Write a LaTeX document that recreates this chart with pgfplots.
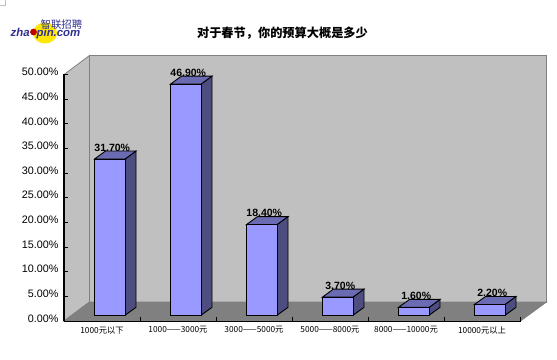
\documentclass[border=0pt]{standalone}
\usepackage{pgfplots}
\pgfplotsset{compat=1.18}
\usepackage{fontspec}
\setmainfont{Liberation Sans}
\newfontfamily\cjk{Noto Sans CJK SC}
\definecolor{wall}{HTML}{C0C0C0}
\definecolor{flr}{HTML}{808080}
\definecolor{barF}{HTML}{9999FF}
\definecolor{barS}{HTML}{4D4D80}
\definecolor{barT}{HTML}{6B6BB3}
\definecolor{logoB}{HTML}{303090}
\begin{document}
\begin{tikzpicture}
\path[use as bounding box] (0pt,0pt) rectangle (557pt,359pt);
\draw[black!25, line width=0.8pt] (0pt,353.5pt) -- (5.5pt,353.5pt) -- (5.5pt,359pt);
% logo
\fill[yellow!90!orange] (45pt,326pt) ellipse (12pt and 10.5pt);
\node[font=\bfseries\itshape\fontsize{11.4}{11.4}\selectfont, text=logoB, inner sep=0pt] at (45.5pt,325.2pt) {zha\phantom{o}pin.com};
\fill[red!75!black] (33.5pt,327pt) circle (3.4pt);
\node[font=\cjk\itshape\fontsize{10.4}{10.4}\selectfont, text=logoB, inner sep=0pt] at (61.5pt,334.5pt) {智联招聘};
\begin{axis}[
  at={(64pt,38pt)}, anchor=south west,
  x=1pt, y=4.93pt,
  scale only axis,
  xmin=0, xmax=456.5, ymin=0, ymax=50,
  clip=false,
  axis on top,
  axis lines*=left,
  axis line style={-, black, line width=1pt},
  tick style={black, line width=0.8pt},
  major tick length=4pt,
  tick align=inside,
  ytick={0,5,...,50},
  yticklabels={0.00\%,5.00\%,10.00\%,15.00\%,20.00\%,25.00\%,30.00\%,35.00\%,40.00\%,45.00\%,50.00\%},
  yticklabel style={font=\fontsize{10.8}{10.8}\selectfont, yshift=2.5pt, xshift=-2pt},
  xtick={0,76,152,228,304,380,456},
  x tick label as interval,
  xticklabels={1000元以下,1000——3000元,3000——5000元,5000——8000元,8000——10000元,10000元以上},
  xticklabel style={font=\cjk\fontsize{8.3}{8.3}\selectfont, yshift=-2pt},
  title={\bfseries 对于春节，你的预算大概是多少},
  title style={at={(0.4786,1.144)}, anchor=center, font=\cjk\fontsize{12.2}{12.2}\selectfont},
]
% walls and floor
\addplot[fill=wall, draw=flr, line width=0.8pt] coordinates {(0,0) (25.5,3.85) (25.5,53.85) (0,50)} -- cycle;
\addplot[fill=wall, draw=flr, line width=0.8pt] coordinates {(25.5,3.85) (482.5,3.85) (482.5,53.85) (25.5,53.85)} -- cycle;
\addplot[fill=flr, draw=flr, line width=0.8pt] coordinates {(0,0) (456.5,0) (482.5,3.85) (25.5,3.85)} -- cycle;
% bar sides and tops
\tikzset{side/.style={fill=barS, draw=black, line width=0.9pt, yshift=5.7pt},
         topf/.style={fill=barT, draw=black, line width=0.9pt, yshift=5.7pt}}
\addplot[side] coordinates {(61,0) (61,31.7) (72,33.32) (72,1.62)} -- cycle;
\addplot[topf] coordinates {(30.5,31.7) (61,31.7) (72,33.32) (41.5,33.32)} -- cycle;
\addplot[side] coordinates {(137,0) (137,46.9) (148,48.52) (148,1.62)} -- cycle;
\addplot[topf] coordinates {(106.5,46.9) (137,46.9) (148,48.52) (117.5,48.52)} -- cycle;
\addplot[side] coordinates {(213,0) (213,18.4) (224,20.02) (224,1.62)} -- cycle;
\addplot[topf] coordinates {(182.5,18.4) (213,18.4) (224,20.02) (193.5,20.02)} -- cycle;
\addplot[side] coordinates {(289,0) (289,3.7) (300,5.32) (300,1.62)} -- cycle;
\addplot[topf] coordinates {(258.5,3.7) (289,3.7) (300,5.32) (269.5,5.32)} -- cycle;
\addplot[side] coordinates {(365,0) (365,1.6) (376,3.22) (376,1.62)} -- cycle;
\addplot[topf] coordinates {(334.5,1.6) (365,1.6) (376,3.22) (345.5,3.22)} -- cycle;
\addplot[side] coordinates {(441,0) (441,2.2) (452,3.82) (452,1.62)} -- cycle;
\addplot[topf] coordinates {(410.5,2.2) (441,2.2) (452,3.82) (421.5,3.82)} -- cycle;
% front faces with labels
\addplot[ybar, bar width=30.5pt, bar shift=0pt, fill=barF, draw=black, line width=0.9pt, yshift=5.7pt,
  nodes near coords={\pgfmathprintnumber[fixed,fixed zerofill,precision=2,assume math mode=true]{\pgfplotspointmeta}\%},
  every node near coord/.style={font=\bfseries\fontsize{10.5}{10.5}\selectfont, anchor=center, xshift=2.5pt, yshift=11.5pt, inner sep=0pt, text=black},
  point meta=y]
  coordinates {(45.75,31.7) (121.75,46.9) (197.75,18.4) (273.75,3.7) (349.75,1.6) (425.75,2.2)};
\end{axis}
\end{tikzpicture}
\end{document}
